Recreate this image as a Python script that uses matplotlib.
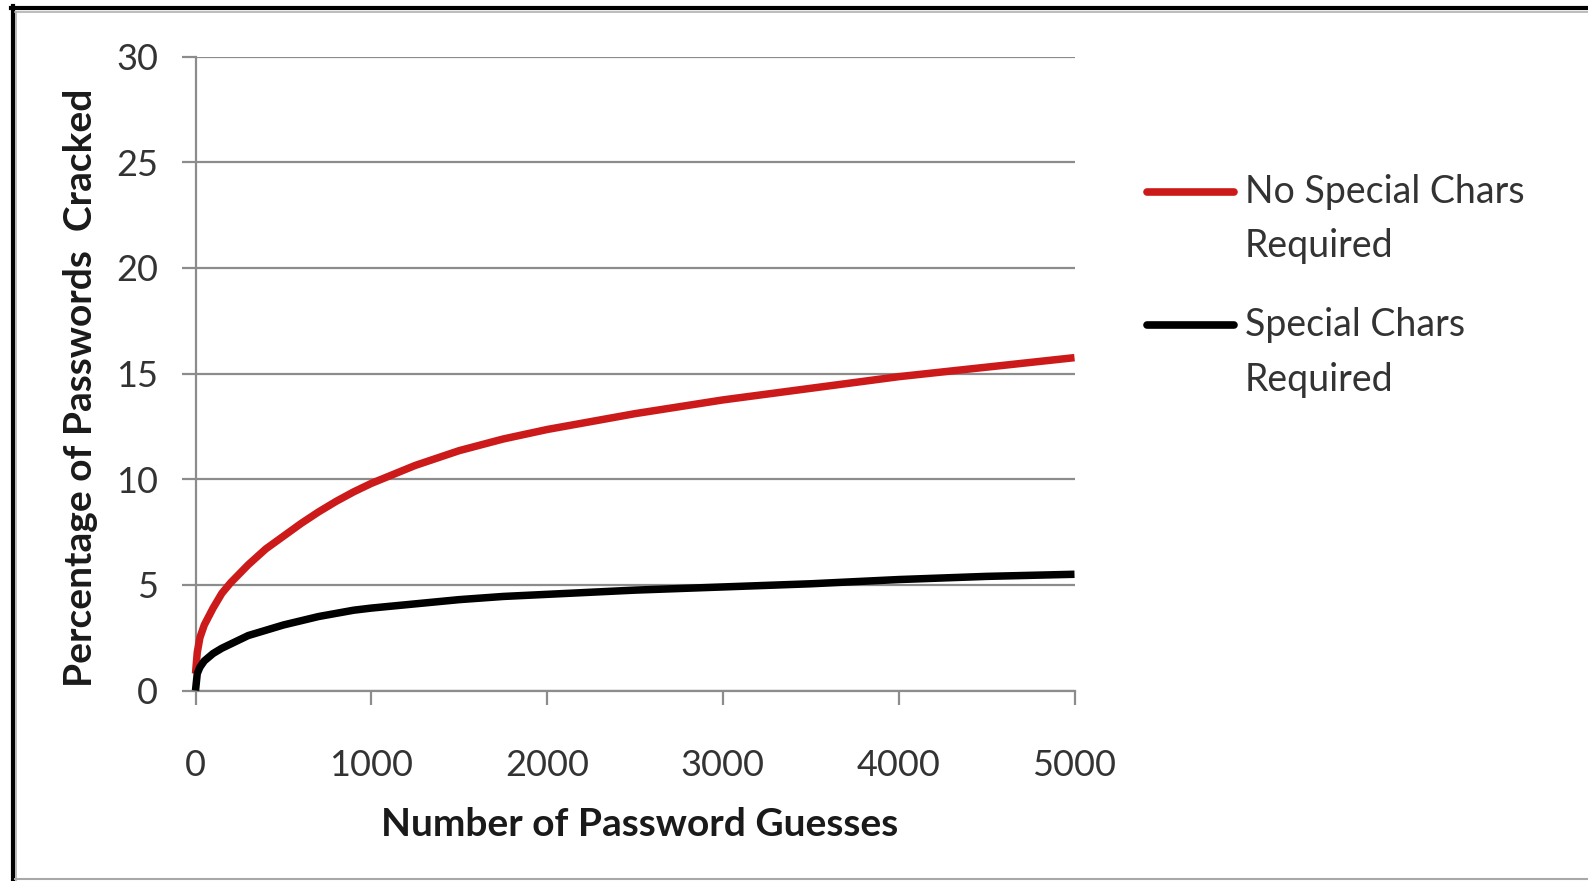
import matplotlib
matplotlib.use("Agg")
import matplotlib.pyplot as plt
from matplotlib.lines import Line2D

# Guessing progress: share of passwords cracked vs. number of guesses
guesses = [0, 10, 25, 50, 100, 150, 200, 300, 400, 500, 600, 700, 800, 900,
           1000, 1250, 1500, 1750, 2000, 2500, 3000, 3500, 4000, 4500, 5000]
no_special = [0.8, 1.8, 2.5, 3.1, 3.9, 4.6, 5.1, 5.95, 6.7, 7.3, 7.9, 8.45, 8.95, 9.4,
              9.8, 10.65, 11.35, 11.9, 12.35, 13.1, 13.75, 14.3, 14.85, 15.3, 15.75]
special = [0.0, 0.8, 1.1, 1.4, 1.75, 2.0, 2.2, 2.6, 2.85, 3.1, 3.3, 3.5, 3.65, 3.8,
           3.9, 4.1, 4.3, 4.45, 4.55, 4.75, 4.9, 5.05, 5.25, 5.4, 5.5]

series_labels = ["No Special Chars\nRequired", "Special Chars\nRequired"]
series_colors = ["#CC1A1A", "#000000"]

x_ticks = [0, 1000, 2000, 3000, 4000, 5000]
y_ticks = [0, 5, 10, 15, 20, 25, 30]

x_label = "Number of Password Guesses"
y_label = "Percentage of Passwords  Cracked"

plt.rcParams["font.family"] = ["Lato", "DejaVu Sans"]

W, H = 1588, 881
fig = plt.figure(figsize=(W / 100, H / 100), dpi=100)
fig.patch.set_facecolor("white")


def fx(px):
    return px / W


def fy(py):
    return 1 - py / H


left, right, top, bottom = 195.5, 1074.5, 56.5, 690.5
ax = fig.add_axes([fx(left), fy(bottom), fx(right - left), (bottom - top) / H])

grid_col = "#8c8c8c"
for vals, col in zip([no_special, special], series_colors):
    ax.plot(guesses, vals, color=col, lw=5.4, solid_capstyle="butt", zorder=3,
            clip_on=False)

ax.set_xlim(0, 5000)
ax.set_ylim(0, 30)
ax.set_xticks(x_ticks)
ax.set_yticks(y_ticks)
ax.set_xticklabels([str(v) for v in x_ticks])
ax.set_yticklabels([str(v) for v in y_ticks])

ax.yaxis.grid(True, color=grid_col, lw=1.6)
ax.set_axisbelow(True)
for s in ["top", "right"]:
    ax.spines[s].set_visible(False)
for s in ["left", "bottom"]:
    ax.spines[s].set_color(grid_col)
    ax.spines[s].set_linewidth(1.6)

ax.tick_params(axis="both", direction="out", length=10, width=1.6,
               color=grid_col, labelsize=26, labelcolor="#333333")
ax.tick_params(axis="y", pad=17)
ax.tick_params(axis="x", pad=32)

fig.text(fx(640), fy(825), x_label, ha="center", va="center",
         fontsize=28, fontweight="bold", color="#1a1a1a")
fig.text(fx(81), fy(388), y_label, ha="center", va="center", rotation=90,
         fontsize=28, fontweight="bold", color="#1a1a1a")

# Legend drawn beside the plot: handle on the first line, wrapped text
leg_rows = [191.5, 325.0]
line_gap = 55.0
for lab, col, yy in zip(series_labels, series_colors, leg_rows):
    fig.add_artist(Line2D([fx(1147), fx(1234)], [fy(yy), fy(yy)], color=col,
                          lw=5.5, solid_capstyle="round"))
    for i, part in enumerate(lab.split("\n")):
        fig.text(fx(1245), fy(yy + i * line_gap), part, ha="left", va="center",
                 fontsize=27, color="#333333")

# Frame around the figure
fig.add_artist(Line2D([fx(11), fx(W)], [fy(8), fy(8)], color="black", lw=3.0))
fig.add_artist(Line2D([fx(13), fx(13)], [fy(6), fy(H)], color="black", lw=3.0))
fig.add_artist(Line2D([fx(15), fx(W)], [fy(12), fy(12)], color="#b0b0b0", lw=1.2))
fig.add_artist(Line2D([fx(16), fx(16)], [fy(12), fy(H)], color="#b0b0b0", lw=1.2))
fig.add_artist(Line2D([fx(15), fx(W)], [fy(879), fy(879)], color="#a8a8a8", lw=1.5))

fig.savefig("out.png", dpi=100, facecolor="white")
